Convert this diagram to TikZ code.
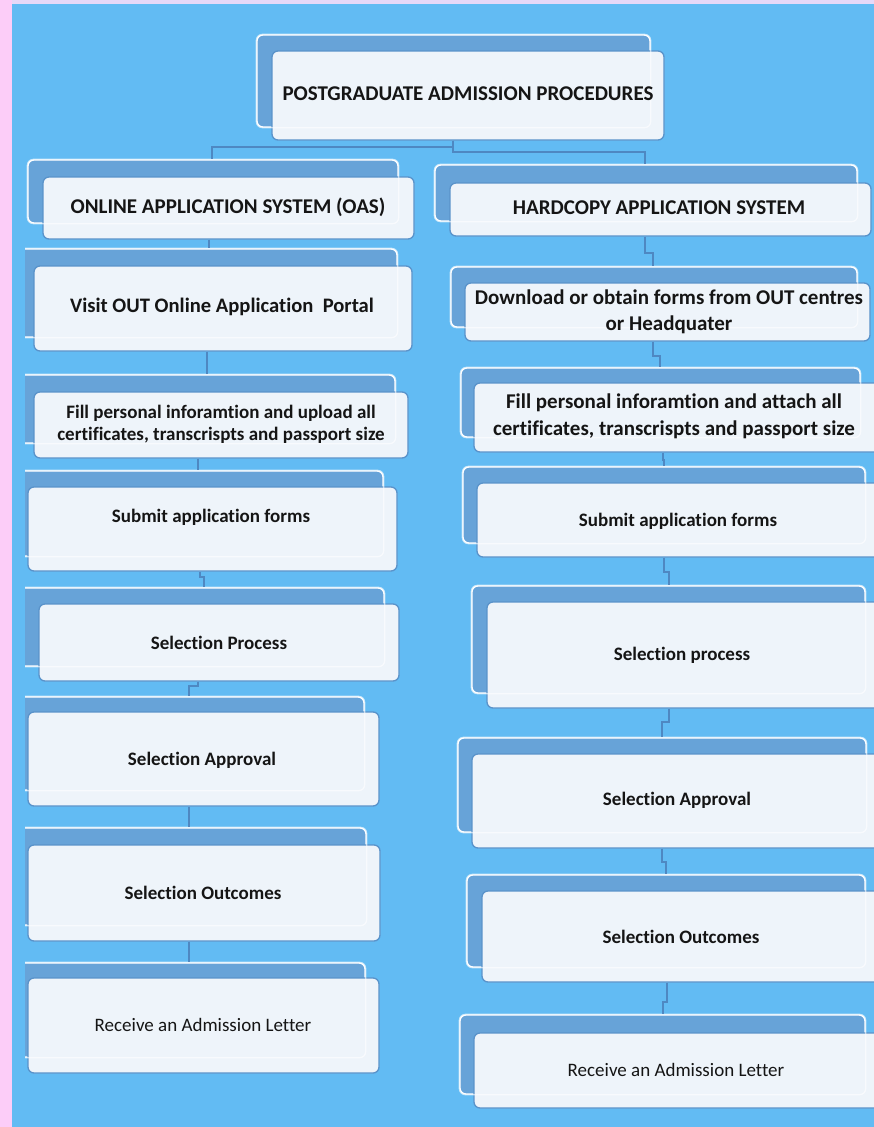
\documentclass[tikz,border=0pt]{standalone}
\usepackage{fontspec}
\setmainfont{Carlito}[RawFeature={-liga;-clig;-dlig;-calt}]
\usetikzlibrary{fit}
\definecolor{bgblue}{HTML}{62BBF3}
\definecolor{backblue}{HTML}{67A3D8}
\definecolor{frontfill}{HTML}{EEF4FA}
\definecolor{frontline}{HTML}{5A93CA}
\definecolor{connline}{HTML}{4E88C2}
\definecolor{pinkL}{HTML}{FCCDF8}
\definecolor{pinkT}{HTML}{E6D8F8}
\definecolor{txt}{HTML}{151515}
\tikzset{
  backbox/.style={fill=backblue, draw=white, line width=1.3pt, rounded corners=6pt, inner sep=0pt},
  frontbox/.style={fill=frontfill, draw=frontline, line width=1.3pt, rounded corners=6pt, inner sep=0pt},
  ghost/.style={draw=white, line width=1.3pt, rounded corners=6pt, opacity=0.6},
  lbl/.style={align=center, text=txt, inner sep=0pt, font=\bfseries\fontsize{19}{22}\selectfont},
  big/.style={font=\bfseries\fontsize{21}{25}\selectfont},
  mid/.style={font=\bfseries\fontsize{20.6}{26}\selectfont},
  dlf/.style={font=\bfseries\fontsize{21}{26}\selectfont},
  fa/.style={font=\bfseries\fontsize{21}{27}\selectfont},
  plain/.style={font=\fontsize{19}{22}\selectfont},
  conn/.style={draw=connline, line width=2pt},
}
\newcommand\bpair[9]{%
  \node[backbox, fit={(#2,#3) (#4,#5)}] (#1b) {};
  \node[frontbox, fit={(#6,#7) (#8,#9)}] (#1) {};
  \draw[ghost] (#1b.south west) rectangle (#1b.north east);
}
\newcommand\stepconn[5]{%
  \draw[conn] (#1.south -| #3,0) -- (#3,#4) -- (#5,#4) -- (#2b.north -| #5,0);
}
\begin{document}
\begin{tikzpicture}[x=1pt, y=-1pt]
\useasboundingbox (0,0) rectangle (874,1127);
\fill[pinkL] (0,0) rectangle (874,1127);
\fill[pinkT] (12,0) rectangle (874,4);
\fill[bgblue] (12,4) rectangle (874,1127);
\begin{scope}
\clip (25,4) rectangle (874,1127);
% boxes
\bpair{top}{257}{35}{650}{127}{272}{51}{664}{140}
\bpair{oas}{28}{160}{398}{223}{43}{177}{414}{239}
\bpair{hard}{435}{165}{857}{221}{450}{183}{871}{236}
\bpair{visit}{15}{249}{397}{337}{34}{266}{412}{351}
\bpair{fillL}{15}{375}{395}{443}{34}{392}{408}{458}
\bpair{subL}{15}{471}{383}{556}{28}{487}{397}{571}
\bpair{spL}{15}{588}{384}{666}{39}{604}{399}{681}
\bpair{apL}{15}{697}{364}{790}{28}{712}{379}{806}
\bpair{ocL}{15}{828}{366}{925}{28}{845}{380}{941}
\bpair{rcL}{15}{963}{365}{1057}{28}{978}{379}{1073}
\bpair{dl}{451}{267}{857}{327}{465}{283}{870}{341}
\bpair{fillR}{461}{368}{860}{437}{474}{383}{880}{452}
\bpair{subR}{463}{467}{865}{543}{477}{483}{880}{557}
\bpair{spR}{472}{586}{865}{693}{487}{602}{880}{708}
\bpair{apR}{458}{738}{866}{832}{472}{754}{880}{848}
\bpair{ocR}{467}{875}{865}{967}{482}{891}{880}{982}
\bpair{rcR}{460}{1015}{865}{1094}{474}{1033}{880}{1108}
% connectors
\draw[conn] (top.south -| 453,0) -- (453,147) -- (212,147) -- (oasb.north -| 212,0);
\draw[conn] (top.south -| 453,0) -- (453,152) -- (645,152) -- (hardb.north -| 645,0);
\draw[conn] (oas.south -| 209,0) -- (visitb.north -| 209,0);
\draw[conn] (visit.south -| 207,0) -- (fillLb.north -| 207,0);
\draw[conn] (fillL.south -| 198,0) -- (subLb.north -| 198,0);
\stepconn{subL}{spL}{200}{577}{204}
\stepconn{spL}{apL}{198}{686}{189}
\draw[conn] (apL.south -| 189,0) -- (ocLb.north -| 189,0);
\draw[conn] (ocL.south -| 189,0) -- (rcLb.north -| 189,0);
\stepconn{hard}{dl}{645}{253}{653}
\stepconn{dl}{fillR}{653}{356}{660}
\stepconn{fillR}{subR}{663}{460}{664}
\stepconn{subR}{spR}{664}{572}{669}
\stepconn{spR}{apR}{669}{722}{662}
\stepconn{apR}{ocR}{662}{862}{666}
\stepconn{ocR}{rcR}{667}{1002}{663}
\end{scope}
% labels
\node[lbl, big] (top-t) at (468,94) {POSTGRADUATE ADMISSION PROCEDURES};
\node[lbl, big] (oas-t) at (228,207) {ONLINE APPLICATION SYSTEM (OAS)};
\node[lbl, big] (hard-t) at (659,208) {HARDCOPY APPLICATION SYSTEM};
\node[lbl, mid] (visit-t) at (222,307) {Visit OUT Online Application\hspace{0.45em}Portal};
\node[lbl] (fillL-t) at (221,424) {Fill personal inforamtion and upload all\\certificates, transcrispts and passport size};
\node[lbl] (subL-t) at (211,517) {Submit application forms};
\node[lbl] (spL-t) at (219,643) {Selection Process};
\node[lbl] (apL-t) at (202,760) {Selection Approval};
\node[lbl] (ocL-t) at (203,893) {Selection Outcomes};
\node[lbl, plain] (rcL-t) at (203,1025) {Receive an Admission Letter};
\node[lbl, dlf] (dl-t) at (669,312) {Download or obtain forms from OUT centres\\or Headquater};
\node[lbl, fa] (fillR-t) at (674,416) {Fill personal inforamtion and attach all\\certificates, transcrispts and passport size};
\node[lbl] (subR-t) at (678,521) {Submit application forms};
\node[lbl] (spR-t) at (682,655) {Selection process};
\node[lbl] (apR-t) at (677,800) {Selection Approval};
\node[lbl] (ocR-t) at (681,937) {Selection Outcomes};
\node[lbl, plain] (rcR-t) at (676,1070) {Receive an Admission Letter};
\end{tikzpicture}
\end{document}
